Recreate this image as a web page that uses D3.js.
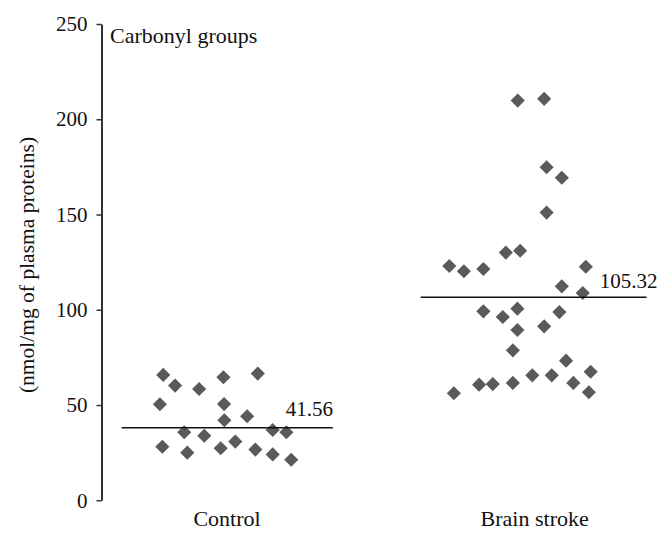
<!DOCTYPE html>
<html><head><meta charset="utf-8">
<script src="https://cdn.jsdelivr.net/npm/d3@7/dist/d3.min.js"></script>
</head><body style="margin:0;background:#fff"><svg id="c" width="672" height="539" style="display:block"></svg>
<script>
const categories = ["Control", "Brain stroke"];
const chartTitle = "Carbonyl groups";
const yAxisLabel = "(nmol/mg of plasma proteins)";
const yTicks = [0, 50, 100, 150, 200, 250];
// values (nmol/mg) and horizontal jitter (fraction of category band)
const controlValues = [65.8, 60.2, 50.4, 58.4, 64.6, 66.5, 50.5, 42.0, 44.1, 35.7, 33.9, 36.9, 35.7, 28.1, 25.0, 27.3, 30.8, 26.6, 24.1, 21.3];
const controlJitter = [-0.213, -0.174, -0.224, -0.095, -0.015, 0.098, -0.013, -0.012, 0.063, -0.144, -0.078, 0.147, 0.192, -0.216, -0.134, -0.024, 0.024, 0.090, 0.147, 0.208];
const strokeValues = [209.8, 210.7, 174.8, 169.3, 151.0, 123.0, 120.2, 121.4, 130.0, 131.0, 122.6, 112.3, 108.8, 99.2, 96.2, 100.6, 89.4, 91.3, 98.8, 78.7, 73.3, 67.5, 65.6, 65.6, 61.6, 61.0, 60.7, 61.6, 56.2, 56.7];
const strokeJitter = [-0.047, 0.040, 0.048, 0.098, 0.048, -0.272, -0.224, -0.160, -0.086, -0.039, 0.177, 0.098, 0.167, -0.160, -0.096, -0.048, -0.048, 0.040, 0.090, -0.063, 0.112, 0.193, 0.001, 0.065, -0.063, -0.129, -0.174, 0.136, -0.257, 0.187];
const meanLineLevels = [38.1, 106.6];
const meanLabels = ["41.56", "105.32"];

const seriesValues = [controlValues, strokeValues];
const seriesJitter = [controlJitter, strokeJitter];

const FONT = '"Liberation Serif", "Times New Roman", serif';
const svg = d3.select("#c");
const y = d3.scaleLinear().domain([0, 250]).range([500.3, 24]);
const x = d3.scaleBand().domain(categories).range([76, 684]).padding(0);
const bw = x.bandwidth();
const cx = (cat, j) => x(cat) + bw / 2 + j * bw;

// y axis
const axisX = 101.5;
const ax = svg.append("g").attr("transform", `translate(${axisX},0)`)
  .call(d3.axisLeft(y).tickValues(yTicks).tickSize(5).tickPadding(9).tickSizeOuter(0));
ax.attr("font-family", null);
ax.select(".domain").attr("stroke", "#333").attr("stroke-width", 2);
ax.selectAll(".tick line").attr("stroke", "#333").attr("stroke-width", 1.5);
ax.selectAll(".tick text").style("font-family", FONT).style("font-size", "21px").attr("fill", "#111");

// y label
svg.append("text").attr("transform", `translate(33.5,265) rotate(-90)`)
  .attr("text-anchor", "middle").style("font-family", FONT).style("font-size", "21.5px").attr("fill", "#111").text(yAxisLabel);

// title
svg.append("text").attr("x", 110).attr("y", 43).style("font-family", FONT).style("font-size", "22px").attr("fill", "#111").text(chartTitle);

// category labels
const labelShift = [-1, 2.7];
categories.forEach((c, ci) => {
  svg.append("text").attr("x", x(c) + bw / 2 + labelShift[ci]).attr("y", 526).attr("text-anchor", "middle")
    .style("font-family", FONT).style("font-size", "22px").attr("fill", "#111").text(c);
});

// points
const diamond = d3.symbol().type(d3.symbolSquare).size(100);
categories.forEach((c, ci) => {
  svg.append("g").selectAll("path").data(seriesValues[ci]).join("path")
    .attr("d", diamond)
    .attr("transform", (v, i) => `translate(${cx(c, seriesJitter[ci][i])},${y(v)}) rotate(45)`)
    .attr("fill", "#5a5a5a");
});

// mean lines
const lineSpans = [[-0.35, 0.345], [-0.366, 0.377]];
categories.forEach((c, ci) => {
  const yy = y(meanLineLevels[ci]);
  svg.append("line").attr("x1", cx(c, lineSpans[ci][0])).attr("x2", cx(c, lineSpans[ci][1]))
    .attr("y1", yy).attr("y2", yy).attr("stroke", "#111").attr("stroke-width", 1.6);
});
svg.append("text").attr("x", cx(categories[0], lineSpans[0][1])).attr("y", y(meanLineLevels[0]) - 12)
  .attr("text-anchor", "end").style("font-family", FONT).style("font-size", "21px").attr("fill", "#111").text(meanLabels[0]);
svg.append("text").attr("x", cx(categories[1], lineSpans[1][1]) + 11).attr("y", y(meanLineLevels[1]) - 9)
  .attr("text-anchor", "end").style("font-family", FONT).style("font-size", "21px").attr("fill", "#111").text(meanLabels[1]);
</script></body></html>
